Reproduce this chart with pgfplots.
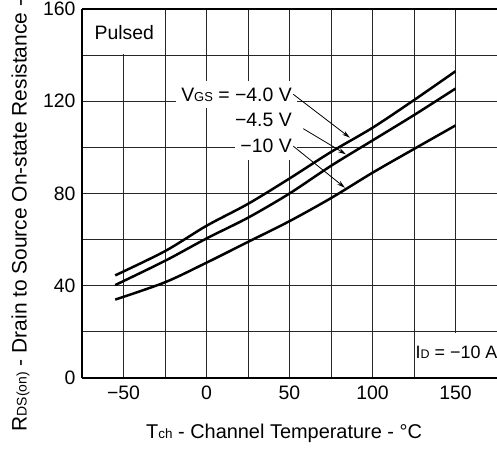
\documentclass[border=0pt]{standalone}
\usepackage{fontspec}
\setmainfont{Liberation Sans}
\usepackage{pgfplots}
\pgfplotsset{compat=1.18}
\usetikzlibrary{arrows.meta,calc}
\newcommand\fs{\fontsize{19.5}{23}\selectfont}
\newcommand\sub[1]{{\fontsize{13}{15}\selectfont #1}}
\begin{document}
\begin{tikzpicture}
\begin{axis}[
  scale only axis, width=415bp, height=369bp,
  xmin=-75, xmax=175, ymin=0, ymax=160,
  axis x line*=box, axis y line*=left,
  axis line style={line width=2.4pt, black},
  xtick={-50,0,50,100,150}, xticklabels={−50,0,50,100,150},
  minor xtick={-75,-25,25,75,125},
  ytick={0,40,80,120,160}, yticklabels={0,40,80,120,\raisebox{-4bp}{160}},
  minor ytick={20,60,100,140},
  grid=both,
  major grid style={black!85, line width=0.9pt},
  minor grid style={black!85, line width=0.9pt},
  major tick length=0pt, minor tick length=0pt,
  tick label style={font=\fs},
  xticklabel style={yshift=-4bp},
  yticklabel style={xshift=-3bp},
  xlabel={T{\fontsize{13.5}{15}\selectfont ch} - Channel Temperature - °C},
  xlabel style={font=\fontsize{20}{24}\selectfont, at={(axis description cs:0.487,-0.1626)}, anchor=base},
  ylabel={R{\fontsize{14}{16}\selectfont DS(on)} - Drain to Source On-state Resistance - mΩ},
  ylabel style={font=\fontsize{21}{25}\selectfont, at={(axis description cs:-0.1333,-0.1537)}, anchor=base west},
  clip=false,
]
\fill[white] (axis cs:-74.5,140.5) rectangle (axis cs:-25.5,159.5);
\fill[white] (axis cs:125.5,0.5) rectangle (axis cs:176,19.5);

\addplot[black, line width=2.5pt, smooth, tension=0.5] coordinates {
(-55,44.5) (-25,55) (0,66) (25,75.5) (50,86.5) (75,98) (100,108.5) (125,120.5) (150,133)};
\addplot[black, line width=2.5pt, smooth, tension=0.5] coordinates {
(-55,40.3) (-25,50.8) (0,60.5) (25,69.5) (50,80) (75,92) (100,103) (125,114) (150,125.5)};
\addplot[black, line width=2.5pt, smooth, tension=0.5] coordinates {
(-55,34) (-25,41.5) (0,50) (25,59) (50,68) (75,78) (100,89) (125,99.3) (150,109.5)};

\node[font=\fs] at (axis cs:-49.5,150) {Pulsed};
\node[font=\fontsize{18}{22}\selectfont, anchor=west, inner xsep=0pt] at (axis cs:125.9,11) {I{\fontsize{12.5}{14}\selectfont D} = −10 A};

\node[font=\fs, fill=white, inner xsep=5bp, inner ysep=0pt, minimum height=27bp, anchor=east] at (axis cs:54.5,123) {V\sub{GS} = −4.0 V};
\node[font=\fs, fill=white, inner xsep=5bp, inner ysep=0pt, minimum height=27bp, anchor=east] at (axis cs:54.5,111.8) {−4.5 V};
\node[font=\fs, fill=white, inner xsep=5bp, inner ysep=0pt, minimum height=27bp, anchor=east] at (axis cs:54.5,100.5) {−10 V};

\draw[line width=0.8pt, -{Stealth[length=8bp,width=4.5bp]}] (axis cs:52.3,123) -- (axis cs:86.4,104.2);
\draw[line width=0.8pt, -{Stealth[length=8bp,width=4.5bp]}] (axis cs:58.3,108.1) -- (axis cs:84,97);
\draw[line width=0.8pt, -{Stealth[length=8bp,width=4.5bp]}] (axis cs:52.3,100.5) -- (axis cs:83.4,82.5);

\coordinate (bl) at (rel axis cs:0,0);
\coordinate (tr) at (rel axis cs:1,1);
\end{axis}
\pgfresetboundingbox
\path[use as bounding box] ($(bl)+(-82bp,-78bp)$) rectangle ($(tr)+(0bp,9bp)$);
\end{tikzpicture}
\end{document}
